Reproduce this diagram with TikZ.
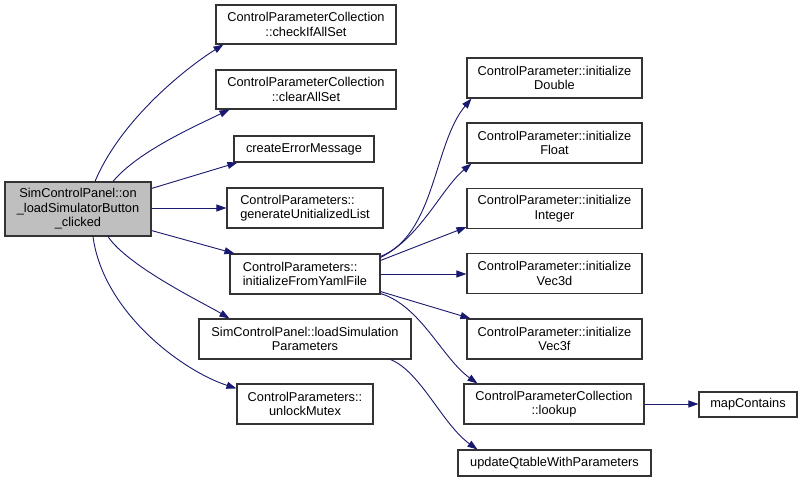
\documentclass[tikz,border=0pt]{standalone}
\usepackage{fontspec}
\setmainfont{Liberation Sans}
\usetikzlibrary{arrows.meta,calc}
\definecolor{edgeblue}{RGB}{25,25,112}
\definecolor{mainfill}{RGB}{191,191,191}
\begin{document}
\begin{tikzpicture}[x=1pt,y=-1pt,
  box/.style={draw=black!80,line width=1.1pt,fill=white,inner sep=0pt,align=center,
    font=\fontsize{12.8}{14.5}\selectfont},
  lbox/.style={box,align=left},
  edge/.style={draw=edgeblue,line width=0.9pt,-{Triangle[length=10pt,width=7pt]}}]
\useasboundingbox[fill=white] (0,0) rectangle (803,482);
% nodes
\node[box,fill=mainfill,minimum width=146pt,minimum height=54pt] (main) at (78,209) {SimControlPanel::on\\\_loadSimulatorButton\\\_clicked};
\node[box,minimum width=180pt,minimum height=39pt] (check) at (306,24.5) {ControlParameterCollection\\::checkIfAllSet};
\node[box,minimum width=180pt,minimum height=39pt] (clear) at (306,89.5) {ControlParameterCollection\\::clearAllSet};
\node[box,minimum width=140pt,minimum height=26pt] (err) at (304,149) {createErrorMessage};
\node[lbox,minimum width=156pt,minimum height=40pt] (gen) at (305,208) {ControlParameters::\\generateUnitializedList};
\node[lbox,minimum width=150pt,minimum height=40pt] (yaml) at (305,274) {ControlParameters::\\initializeFromYamlFile};
\node[box,minimum width=212pt,minimum height=40pt] (load) at (305,339) {SimControlPanel::loadSimulation\\Parameters};
\node[box,minimum width=136pt,minimum height=40pt] (unlock) at (305,404) {ControlParameters::\\unlockMutex};
\node[box,minimum width=175pt,minimum height=40pt] (dbl) at (554.5,78) {ControlParameter::initialize\\Double};
\node[box,minimum width=175pt,minimum height=40pt] (flt) at (554.5,143) {ControlParameter::initialize\\Float};
\node[box,minimum width=175pt,minimum height=40pt] (int) at (554.5,208.5) {ControlParameter::initialize\\Integer};
\node[box,minimum width=175pt,minimum height=40pt] (vd) at (554.5,273.5) {ControlParameter::initialize\\Vec3d};
\node[box,minimum width=175pt,minimum height=40pt] (vf) at (554.5,339) {ControlParameter::initialize\\Vec3f};
\node[box,minimum width=180pt,minimum height=40pt] (look) at (554,404) {ControlParameterCollection\\::lookup};
\node[box,minimum width=193pt,minimum height=26pt] (upd) at (554.5,463) {updateQtableWithParameters};
\node[box,minimum width=98pt,minimum height=25pt] (map) at (748,404.5) {mapContains};
% edges from main
\draw[edge] ($(main.north)+(17,0)$) .. controls +(25,-60) and +(-40,25) .. ($(check.south west)+(8,0)$);
\draw[edge] ($(main.north)+(35,0)$) .. controls +(25,-30) and +(-35,17) .. ($(clear.south west)+(14,0)$);
\draw[edge] ($(main.north east)+(0,7)$) -- ($(err.south west)+(4,0)$);
\draw[edge] (main.east |- gen.west) -- (gen.west);
\draw[edge] ($(main.south east)+(0,-6)$) -- ($(yaml.north west)+(5,0)$);
\draw[edge] ($(main.south)+(30,0)$) .. controls +(20,30) and +(-25,-15) .. ($(load.north west)+(31,0)$);
\draw[edge] ($(main.south)+(15,0)$) .. controls +(10,75) and +(-55,-18) .. ($(unlock.north west)+(0,5)$);
% edges from yaml
\draw[edge] ($(yaml.north east)+(0,3)$) .. controls +(55,-22) and +(-38,45) .. ($(dbl.south west)+(5,0)$);
\draw[edge] ($(yaml.north east)+(0,4)$) .. controls +(40,-20) and +(-30,25) .. ($(flt.south west)+(5,0)$);
\draw[edge] ($(yaml.north east)+(0,7)$) -- ($(int.south west)+(0,-2)$);
\draw[edge] (yaml.east) -- (yaml.east -| vd.west);
\draw[edge] ($(yaml.south east)+(0,-3)$) -- ($(vf.north west)+(4,0)$);
\draw[edge] ($(yaml.south east)+(0,-1)$) .. controls +(40,12) and +(-35,-25) .. ($(look.north west)+(14,0)$);
% other edges
\draw[edge] ($(load.south east)+(-21,0)$) .. controls +(30,12) and +(-35,-25) .. ($(upd.north west)+(20,0)$);
\draw[edge] (look.east) -- (look.east -| map.west);
\end{tikzpicture}
\end{document}
